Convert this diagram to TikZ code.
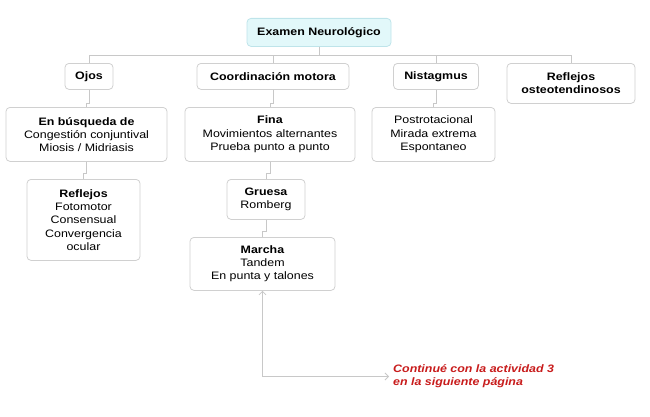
\documentclass[tikz,border=0pt]{standalone}
\usepackage{fontspec}
\setmainfont{Liberation Sans}[FakeStretch=1.15]
\usetikzlibrary{arrows,arrows.meta,positioning,calc}
\definecolor{examgray}{RGB}{208,208,208}
\definecolor{examline}{RGB}{200,200,200}
\definecolor{examcyan}{RGB}{226,248,250}
\definecolor{examcyanline}{RGB}{190,228,234}
\definecolor{examred}{RGB}{200,28,28}

\begin{document}
\begin{tikzpicture}[x=1bp,y=1bp,
    box/.style={draw=examgray, fill=white, rounded corners=4bp, line width=0.8bp,
        align=center, anchor=north, inner sep=2bp,
        font=\fontsize{10.8bp}{13.3bp}\selectfont},
    titlebox/.style={box, draw=examcyanline, fill=examcyan},
    link/.style={draw=examline, line width=0.8bp},
    barb/.style={{Straight Barb[length=3.5bp,width=7bp]}-{Straight Barb[length=3.5bp,width=7bp]}},
    notetext/.style={text=examred, align=left, anchor=west, inner sep=0pt,
        font=\fontsize{10.8bp}{13.3bp}\selectfont\bfseries\itshape}]
    \useasboundingbox (0,0) rectangle (650,416);

    % Title
    \node[titlebox, minimum width=144bp, minimum height=28bp] (exam) at (319,398) {\textbf{Examen Neurológico}};

    % First level
    \node[box, minimum width=48bp, minimum height=26bp] (ojos) at (89,353) {\textbf{Ojos}};
    \node[box, minimum width=152bp, minimum height=26bp] (coord) at (273,353) {\textbf{Coordinación motora}};
    \node[box, minimum width=85bp, minimum height=26bp] (nist) at (436,353) {\textbf{Nistagmus}};
    \node[box, minimum width=128bp, minimum height=40bp] (refl) at (571,353) {\textbf{Reflejos}\\\textbf{osteotendinosos}};

    % Second level
    \node[box, minimum width=161bp, minimum height=54bp] (busq) at (86.5,309) {\textbf{En búsqueda de}\\Congestión conjuntival\\Miosis / Midriasis};
    \node[box, minimum width=170bp, minimum height=54bp] (fina) at (270,309) {\textbf{Fina}\\Movimientos alternantes\\Prueba punto a punto};
    \node[box, minimum width=123bp, minimum height=54bp] (post) at (433.5,309) {Postrotacional\\Mirada extrema\\Espontaneo};

    % Third level
    \node[box, minimum width=113bp, minimum height=81bp] (pupil) at (83.5,237) {\textbf{Reflejos}\\Fotomotor\\Consensual\\Convergencia\\ocular};
    \node[box, minimum width=78bp, minimum height=40bp] (gruesa) at (266,237) {\textbf{Gruesa}\\Romberg};
    \node[box, minimum width=145bp, minimum height=53bp] (marcha) at (262.5,179) {\textbf{Marcha}\\Tandem\\En punta y talones};

    % Note
    \node[notetext] (note) at (393,39.5) {Continué con la actividad 3\\en la siguiente página};

    % Connectors
    \coordinate (bus) at (0,361);
    \draw[link] (exam.south) -- (exam.south |- bus);
    \draw[link] (ojos.north) |- (refl.north |- bus) -- (refl.north);
    \draw[link] (coord.north) -- (coord.north |- bus);
    \draw[link] (nist.north) -- (nist.north |- bus);
    \draw[link] (ojos.south) -- ++(0,-14) -| (busq.north);
    \draw[link] (coord.south) -- ++(0,-14) -| (fina.north);
    \draw[link] (nist.south) -- ++(0,-14) -| (post.north);
    \draw[link] (busq.south) -- ++(0,-12) -| (pupil.north);
    \draw[link] (fina.south) -- ++(0,-12) -| (gruesa.north);
    \draw[link] (gruesa.south) -- ++(0,-12) -| (marcha.north);
    \draw[link, barb, shorten >=4bp] (marcha.south) |- (note.west);
\end{tikzpicture}
\end{document}
